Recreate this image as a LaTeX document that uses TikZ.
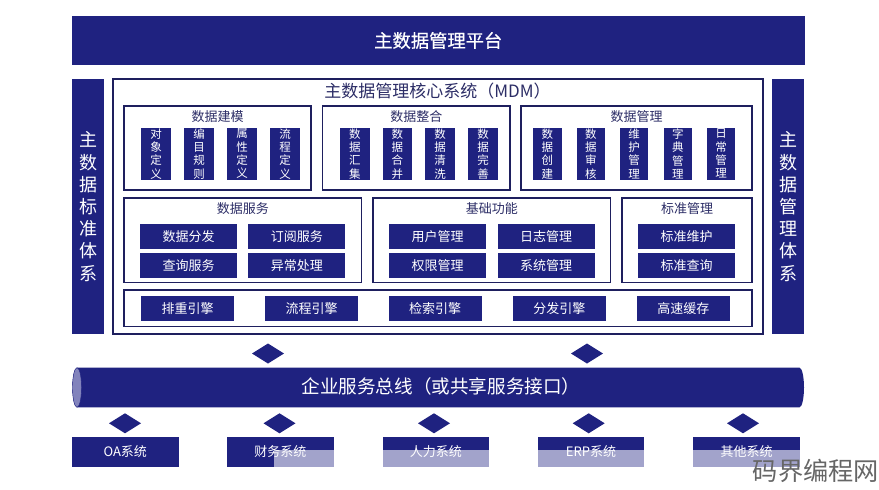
\documentclass[tikz,border=0pt]{standalone}
\usepackage{fontspec}
\setmainfont{Noto Sans CJK SC}
\newfontfamily\mdmheavy[FakeBold=0.6]{Noto Sans CJK SC}
\usetikzlibrary{shapes,positioning}
\definecolor{mdmblue}{HTML}{1F2280}
\definecolor{mdmline}{HTML}{1E1F5E}
\definecolor{mdmtitle}{HTML}{2C2D66}
\definecolor{mdmlight}{HTML}{A2A3CB}
\definecolor{mdmend}{HTML}{8283BC}
\newcommand{\px}[1]{\fontsize{#1}{#1}\selectfont}
\tikzset{
  navybox/.style={fill=mdmblue,text=white,inner sep=0pt,outer sep=0pt},
  panel/.style={draw=mdmline,line width=1.2pt,fill=white,inner sep=0pt,outer sep=0pt},
  paneltitle/.style={text=mdmtitle,inner sep=0pt,font=\px{13}},
  sidebar/.style={navybox,minimum width=32,minimum height=255,align=center,font=\fontsize{18}{22.2}\selectfont},
  vbar/.style={navybox,minimum height=52.5,align=center,font=\fontsize{11.5}{13.3}\selectfont},
  btn/.style={navybox,minimum height=24.5,font=\px{13}},
  linkdiamond/.style={diamond,fill=mdmblue,inner sep=0pt,outer sep=0pt,minimum width=32,minimum height=20},
  sysbox/.style={navybox,minimum width=106.5,minimum height=30.5},
  syslight/.style={fill=mdmlight,inner sep=0pt,outer sep=0pt,minimum height=17},
}
\begin{document}
\begin{tikzpicture}[x=1pt,y=-1pt]
  \useasboundingbox (0,0) rectangle (879,490);
  \node[navybox,minimum width=733.5,minimum height=49,font=\mdmheavy\px{18.3}] (platform) at (438.25,40.5) {主数据管理平台};
  \node[sidebar] (leftside) at (88,206.5) {主\\数\\据\\标\\准\\体\\系};
  \node[sidebar] (rightside) at (788,206.5) {主\\数\\据\\管\\理\\体\\系};
  \node[panel,minimum width=650,minimum height=255] (core) at (438,206.5) {};
  \node[text=mdmtitle,inner sep=0pt,font=\px{17}] (coretitle) at (437.5,91.5) {主数据管理核心系统（MDM）};
  % first row of panels
  \node[panel,minimum width=187,minimum height=84] (model) at (217.5,148) {};
  \node[panel,minimum width=187.5,minimum height=84] (integ) at (416.25,148) {};
  \node[panel,minimum width=231,minimum height=84] (manage) at (636.5,148) {};
  \node[paneltitle] (modeltitle) at (217.5,116.5) {数据建模};
  \node[paneltitle] (integtitle) at (416.25,116.5) {数据整合};
  \node[paneltitle] (managetitle) at (636.5,116.5) {数据管理};
  \foreach \x/\n/\t in {156/a/对\\象\\定\\义,199/b/编\\目\\规\\则,242/c/属\\性\\定\\义,285/d/流\\程\\定\\义}
    \node[vbar,minimum width=30] (model\n) at (\x,153.75) {\t};
  \foreach \x/\n/\t in {354.75/a/数\\据\\汇\\集,397.25/b/数\\据\\合\\并,440/c/数\\据\\清\\洗,483/d/数\\据\\完\\善}
    \node[vbar,minimum width=29.5] (integ\n) at (\x,153.75) {\t};
  \foreach \x/\n/\t in {547.25/a/数\\据\\创\\建,590.75/b/数\\据\\审\\核,634/c/维\\护\\管\\理,677.75/d/字\\典\\管\\理,721/e/日\\常\\管\\理}
    \node[vbar,minimum width=28.5] (manage\n) at (\x,153.75) {\t};
  % second row of panels
  \node[panel,minimum width=237.5,minimum height=84.5] (serv) at (242.75,240.25) {};
  \node[panel,minimum width=237.5,minimum height=84.5] (basic) at (491.75,240.25) {};
  \node[panel,minimum width=130,minimum height=84.5] (std) at (687,240.25) {};
  \node[paneltitle] (servtitle) at (242.75,209) {数据服务};
  \node[paneltitle] (basictitle) at (491.75,209) {基础功能};
  \node[paneltitle] (stdtitle) at (687,209) {标准管理};
  \foreach \x/\y/\n/\t in {188.5/236.25/servA/数据分发,296.75/236.25/servB/订阅服务,188.5/265.25/servC/查询服务,296.75/265.25/servD/异常处理,
    437.5/236.25/basicA/用户管理,546/236.25/basicB/日志管理,437.5/265.25/basicC/权限管理,546/265.25/basicD/系统管理,
    686.5/236.25/stdA/标准维护,686.5/265.25/stdB/标准查询}
    \node[btn,minimum width=97] (\n) at (\x,\y) {\t};
  % engines
  \node[panel,minimum width=628,minimum height=36.5] (engines) at (438,308.25) {};
  \foreach \x/\n/\t in {187.5/a/排重引擎,311.5/b/流程引擎,435/c/检索引擎,559.25/d/分发引擎,683.25/e/高速缓存}
    \node[btn,minimum width=93] (engine\n) at (\x,308.25) {\t};
  % bus
  \fill[mdmblue] (77,367.7) -- (799.5,367.7) arc[start angle=90,end angle=-90,x radius=4.5pt,y radius=19.8pt]
    -- (77,407.3) arc[start angle=270,end angle=90,x radius=4.5pt,y radius=19.8pt] -- cycle;
  \node[ellipse,fill=mdmend,draw=mdmblue,line width=0.4pt,inner sep=0pt,outer sep=0pt,minimum width=9,minimum height=39.6] (busend) at (77,387.5) {};
  \node[text=white,inner sep=0pt,font=\px{18.6}] (bustext) at (441,386.5) {企业服务总线（或共享服务接口）};
  \node[linkdiamond] (linkA) at (268,353.5) {};
  \node[linkdiamond] (linkB) at (587,353.5) {};
  \foreach \x/\n in {125/a,279.5/b,434/c,588.7/d,743/e}
    \node[linkdiamond] (link\n) at (\x,423.3) {};
  % source systems
  \node[sysbox] (oa) at (125.25,452) {};
  \node[sysbox] (finance) at (280.25,452) {};
  \node[sysbox] (hr) at (435.75,452) {};
  \node[sysbox] (erp) at (591,452) {};
  \node[sysbox] (other) at (746.5,452) {};
  \node[syslight,minimum width=60] (financelight) at (304,458.5) {};
  \foreach \n in {hr,erp,other}
    \node[syslight,minimum width=106.5] (\n light) at (\n.center |- financelight) {};
  \foreach \n/\t in {oa/OA系统,finance/财务系统,hr/人力系统,erp/ERP系统,other/其他系统}
    \node[text=white,inner sep=0pt,font=\px{13}] (\n label) at (\n.center) {\t};
  \node[text=black!60,inner sep=0pt,anchor=east,font=\px{25.2}] (watermark) at (879,470.5) {码界编程网};
\end{tikzpicture}
\end{document}
